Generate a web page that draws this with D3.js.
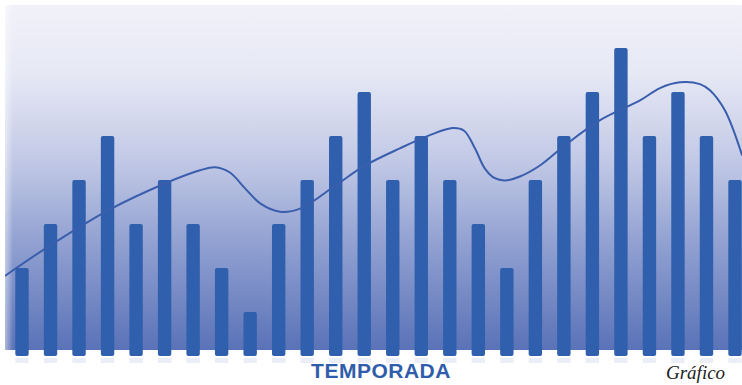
<!DOCTYPE html>
<html>
<head>
<meta charset="utf-8">
<script src="https://cdn.jsdelivr.net/npm/d3@7"></script>
<style>
  html, body { margin: 0; padding: 0; background: #ffffff; }
  svg { display: block; }
</style>
</head>
<body>
<div id="chart"></div>
<script>
// ---- data ----
const categories = d3.range(1, 27).map(d => "T" + d);
const barValues = [2, 3, 4, 5, 3, 4, 3, 2, 1, 3, 4, 5, 6, 4, 5, 4, 3, 2, 4, 5, 6, 7, 5, 6, 5, 4];
// trend line: position in category-index units and value
const trendPos = [-0.6, 0.98, 3.02, 5.01, 6.24, 6.77, 7.29, 7.82, 8.35, 9.05, 9.75, 11.0, 12.03, 13.25, 14.3, 15.1, 15.5, 15.88, 16.23, 16.58, 16.94, 17.46, 18.16, 19.04, 20.27, 21.67, 22.37, 23.07, 23.77, 24.12, 24.64, 25.25];
const trendVal = [1.82, 2.51, 3.31, 3.92, 4.22, 4.29, 4.17, 3.81, 3.47, 3.28, 3.35, 3.88, 4.33, 4.72, 5.02, 5.18, 5.12, 4.72, 4.26, 4.04, 3.99, 4.08, 4.33, 4.79, 5.36, 5.81, 6.09, 6.22, 6.18, 6.04, 5.59, 4.56];
const axisTitle = "TEMPORADA";
const caption = "Gráfico";

// ---- layout ----
const W = 742, H = 385;
const svg = d3.select("#chart").append("svg").attr("width", W).attr("height", H);

const plot = { x0: 5, x1: 742, y0: 5, y1: 350 };
const xIdx = d3.scaleLinear().domain([0, categories.length - 1]).range([22, 735]);
const y = d3.scaleLinear().domain([0, 7]).range([356, 48]);
const step = xIdx(1) - xIdx(0);
const barW = step * 0.47;

const defs = svg.append("defs");
const grad = defs.append("linearGradient").attr("id", "bg").attr("x1", 0).attr("y1", 0).attr("x2", 0).attr("y2", 1);
[[0, "#f1f1f9"], [0.2, "#e6e8f4"], [0.45, "#c2c9e6"], [0.7, "#8f9fd0"], [1, "#5a72b7"]]
  .forEach(([o, c]) => grad.append("stop").attr("offset", o).attr("stop-color", c));
const lgrad = defs.append("linearGradient").attr("id", "edge").attr("x1", 0).attr("y1", 0).attr("x2", 1).attr("y2", 0);
lgrad.append("stop").attr("offset", 0).attr("stop-color", "#ffffff").attr("stop-opacity", 0.5);
lgrad.append("stop").attr("offset", 1).attr("stop-color", "#ffffff").attr("stop-opacity", 0);
defs.append("clipPath").attr("id", "clip").append("rect")
  .attr("x", plot.x0).attr("y", plot.y0).attr("width", plot.x1 - plot.x0).attr("height", plot.y1 - plot.y0);

svg.append("rect").attr("x", plot.x0).attr("y", plot.y0)
  .attr("width", plot.x1 - plot.x0).attr("height", plot.y1 - plot.y0).attr("fill", "url(#bg)");
svg.append("rect").attr("x", plot.x0).attr("y", plot.y0)
  .attr("width", 8).attr("height", plot.y1 - plot.y0).attr("fill", "url(#edge)");

// bars
svg.append("g").selectAll("rect").data(barValues).join("rect")
  .attr("x", (d, i) => xIdx(i) - barW / 2)
  .attr("y", d => y(d))
  .attr("width", barW)
  .attr("height", d => y(0) - y(d))
  .attr("rx", 2)
  .attr("fill", "#3060ad");

// faint reflection under bars
svg.append("g").selectAll("rect").data(barValues).join("rect")
  .attr("x", (d, i) => xIdx(i) - barW / 2)
  .attr("y", y(0) + 2)
  .attr("width", barW)
  .attr("height", 5)
  .attr("fill", "#dfe3f1")
  .attr("opacity", 0.6);

// trend line
const trend = trendPos.map((p, i) => [p, trendVal[i]]);
svg.append("path")
  .datum(trend)
  .attr("clip-path", "url(#clip)")
  .attr("fill", "none")
  .attr("stroke", "#3a5ead")
  .attr("stroke-width", 2)
  .attr("d", d3.line().x(d => xIdx(d[0])).y(d => y(d[1])).curve(d3.curveCatmullRom.alpha(0.5)));

// axis title
svg.append("text")
  .attr("x", 381).attr("y", 378)
  .attr("text-anchor", "middle")
  .attr("font-family", "Liberation Sans, Arial, sans-serif")
  .attr("font-weight", "bold")
  .attr("font-size", 21)
  .attr("letter-spacing", 0.5)
  .attr("fill", "#2f5dab")
  .text(axisTitle);

// caption at bottom right
svg.append("text")
  .attr("x", 666).attr("y", 379)
  .attr("font-family", "Liberation Serif, Times New Roman, serif")
  .attr("font-style", "italic")
  .attr("font-size", 19)
  .attr("fill", "#222222")
  .text(caption);
</script>
</body>
</html>
